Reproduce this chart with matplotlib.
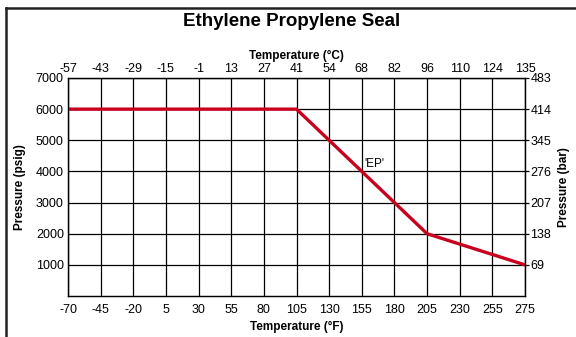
import matplotlib
matplotlib.use("Agg")
import matplotlib.pyplot as plt
from matplotlib.lines import Line2D
from matplotlib import font_manager

fams = {f.name for f in font_manager.fontManager.ttflist}
FONT = ['Liberation Sans Narrow', 'Liberation Sans', 'DejaVu Sans'] if 'Liberation Sans Narrow' in fams else ['Liberation Sans', 'DejaVu Sans']
plt.rcParams['font.family'] = FONT

# Data
temp_f_ticks = [-70, -45, -20, 5, 30, 55, 80, 105, 130, 155, 180, 205, 230, 255, 275]
temp_c_ticks = [-57, -43, -29, -15, -1, 13, 27, 41, 54, 68, 82, 96, 110, 124, 135]
psig_ticks = [1000, 2000, 3000, 4000, 5000, 6000, 7000]
bar_ticks = [69, 138, 207, 276, 345, 414, 483]
ep_temp_f = [-70, 105, 205, 275]
ep_psig = [6000, 6000, 2000, 1000]
ep_label = "'EP'"
ep_label_temp_f = 155
ep_label_psig = 4250

W, H = 576, 337
fig = plt.figure(figsize=(W / 100, H / 100), dpi=100)
L, R, T, B = 68, 525, 78, 296
ax = fig.add_axes([L / W, 1 - B / H, (R - L) / W, (B - T) / H])

pos = {t: i for i, t in enumerate(temp_f_ticks)}
xs = [pos[t] for t in ep_temp_f]
ax.plot(xs, ep_psig, color='#c8001e', lw=2.4, solid_capstyle='butt', zorder=3)
ax.annotate(ep_label, (pos[ep_label_temp_f], ep_label_psig), xytext=(2, 0),
            textcoords='offset points', fontsize=8.5, ha='left', va='center')

n = len(temp_f_ticks)
ax.set_xlim(0, n - 1)
ax.set_ylim(0, 7000)
ax.set_xticks(range(n))
ax.set_xticklabels([str(t) for t in temp_f_ticks], fontsize=9)
ax.set_yticks(psig_ticks)
ax.set_yticklabels([str(v) for v in psig_ticks], fontsize=9)
ax.tick_params(axis='x', length=0, pad=6)
ax.tick_params(axis='y', length=0, pad=3)
ax.grid(True, color='black', lw=0.9)
for s in ax.spines.values():
    s.set_linewidth(0.9)
ax.set_xlabel('Temperature (°F)', fontsize=8.5, fontweight='bold', labelpad=3)
ax.set_ylabel('Pressure (psig)', fontsize=8.5, fontweight='bold', labelpad=7)

axt = ax.twiny()
axt.set_xlim(ax.get_xlim())
axt.set_xticks(range(n))
axt.set_xticklabels([str(t) for t in temp_c_ticks], fontsize=9)
axt.tick_params(axis='x', length=0, pad=2)
axt.set_xlabel('Temperature (°C)', fontsize=8.5, fontweight='bold', labelpad=3)

axr = ax.twinx()
axr.set_ylim(ax.get_ylim())
axr.set_yticks(psig_ticks)
axr.set_yticklabels([str(v) for v in bar_ticks], fontsize=9)
axr.tick_params(axis='y', length=3, width=0.9, pad=1)
axr.set_ylabel('Pressure (bar)', fontsize=8.5, fontweight='bold', labelpad=5)

fig.text(292 / W, 1 - 22 / H, 'Ethylene Propylene Seal', fontsize=13.5, fontweight='bold',
         ha='center', va='center')

# figure frame (left and top)
fig.add_artist(Line2D([6 / W, 6 / W], [0, 1 - 8 / H], transform=fig.transFigure, color='#222222', lw=1.8))
fig.add_artist(Line2D([6 / W, 1], [1 - 8 / H, 1 - 8 / H], transform=fig.transFigure, color='#222222', lw=1.8))

fig.savefig('out.png', dpi=100)
